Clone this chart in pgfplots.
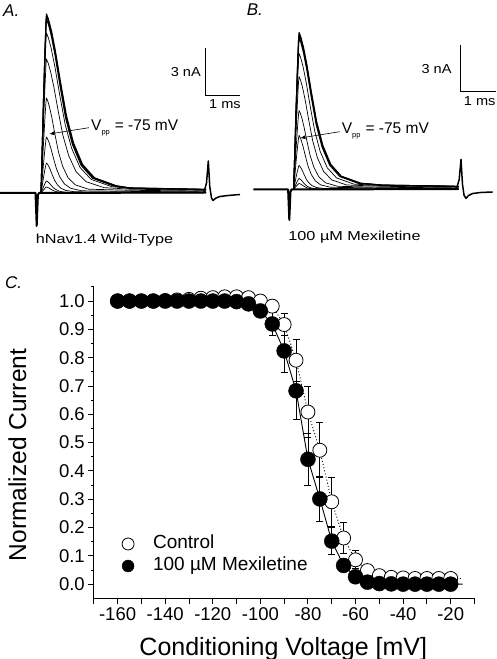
\documentclass[border=0pt]{standalone}
\usepackage{pgfplots}
\pgfplotsset{compat=1.18}
\usepackage{pgfplotstable}
\usepackage{fontspec}
\setmainfont{Liberation Sans}
\newfontfamily\widefont{Liberation Sans}[FakeStretch=1.25]
\newfontfamily\midfont{Liberation Sans}[FakeStretch=1.12]
\usetikzlibrary{arrows.meta}

\pgfplotstableread{
v c ce m me
-160 1.000 0.005 1.000 0.005
-155 1.000 0.005 1.000 0.005
-150 1.000 0.005 1.000 0.005
-145 1.000 0.005 1.000 0.005
-140 1.002 0.006 1.000 0.005
-135 1.004 0.006 1.000 0.005
-130 1.006 0.008 1.000 0.005
-125 1.010 0.010 1.000 0.006
-120 1.012 0.010 1.000 0.006
-115 1.015 0.011 1.000 0.006
-110 1.015 0.012 0.998 0.008
-105 1.012 0.012 0.990 0.010
-100 1.000 0.015 0.965 0.015
-95 0.982 0.020 0.919 0.040
-90 0.917 0.040 0.824 0.075
-85 0.791 0.075 0.683 0.100
-80 0.608 0.090 0.441 0.093
-75 0.473 0.097 0.301 0.080
-70 0.291 0.086 0.152 0.047
-65 0.163 0.056 0.066 0.020
-60 0.086 0.032 0.026 0.010
-55 0.048 0.015 0.007 0.006
-50 0.030 0.010 0.002 0.005
-45 0.024 0.008 0.001 0.005
-40 0.022 0.008 0.000 0.005
-35 0.020 0.008 0.000 0.005
-30 0.020 0.008 0.000 0.005
-25 0.020 0.008 0.000 0.005
-20 0.020 0.008 0.000 0.005
}\cdata

\pgfplotsset{
  tr/.style={black, line width=0.7pt, mark=none, line join=round},
  trb/.style={black, line width=1.1pt, mark=none, line join=round},
  base/.style={black, line width=2pt, mark=none, line join=round},
  panel/.style={scale only axis, width=243pt, height=225pt, xmin=0, xmax=243, ymin=-40, ymax=185, hide axis, clip=false, anchor=south west},
}

\begin{document}
\begin{tikzpicture}[x=1pt,y=1pt]
\useasboundingbox (0,0) rectangle (496,659);

% ---------------- Panel A ----------------
\begin{axis}[panel, at={(0pt,426pt)}]
\addplot[base] coordinates {(0,0)(35.5,0)(36.7,-33)(37.9,-2)(39,0)(206,0.5)};
\addplot[black, line width=1.5pt, line join=round] coordinates {(204,1)(206.5,10)(208.3,32)(209.8,6)(211.5,-5)(213,-7.5)(216,-5)(220,-3.5)(228,-2.5)(240,-1.5)};
\addplot[tr] coordinates {(41,0)(42,1.2)(43.5,3.1)(45,4.8)(46,5.8)(46.5,6)(47.14,5.8)(48.1,5.4)(49.38,4.7)(50.98,3.7)(52.9,2.6)(55.14,1.7)(58.02,1.0)(61.86,0.5)(68.9,0.2)(130,0.2)(160,0.2)(190,0.1)(206,0.1)};
\addplot[tr] coordinates {(41,0)(42,2.4)(43.5,6.2)(45,9.6)(46,11.5)(46.5,12)(47.2,11.6)(48.25,10.9)(49.65,9.5)(51.4,7.4)(53.5,5.2)(55.95,3.4)(59.1,1.9)(63.3,1.0)(71,0.5)(130,0.3)(160,0.3)(190,0.3)(206,0.2)};
\addplot[tr] coordinates {(41,0)(42,6)(43.5,15.6)(45,24)(46,28.8)(46.5,30)(47.3,29.1)(48.5,27.2)(50.1,23.7)(52.1,18.6)(54.5,12.9)(57.3,8.4)(60.9,4.8)(65.7,2.6)(74.5,1.2)(130,0.8)(160,0.8)(190,0.7)(206,0.6)};
\addplot[tr] coordinates {(41,0)(42,11.2)(43.5,29.1)(45,44.8)(46,53.8)(46.5,56)(47.5,54.3)(49,50.7)(51,44.2)(53.5,34.7)(56.5,24.1)(60,15.7)(64.5,9.0)(70.5,4.8)(81.5,2.2)(130,1.6)(160,1.4)(190,1.2)(206,1.1)};
\addplot[tr] coordinates {(41,0)(42,19)(43.5,49.4)(45,76)(46,91.2)(46.5,95)(47.7,92.2)(49.5,86.0)(51.9,75.1)(54.9,58.9)(58.5,40.9)(62.7,26.6)(68.1,15.2)(75.3,8.1)(88.5,3.8)(130,2.7)(160,2.4)(190,2.1)(206,1.9)};
\addplot[tr] coordinates {(41,0)(42,26.8)(43.5,69.7)(45,107.2)(46,128.6)(46.5,134)(48.14,130.0)(50.6,121.3)(53.88,105.9)(57.98,83.1)(62.9,57.6)(68.64,37.5)(76.02,21.4)(85.86,11.4)(103.9,5.4)(130,3.8)(160,3.4)(190,2.9)(206,2.7)};
\addplot[tr] coordinates {(41,0)(42,32)(43.5,83.2)(45,128)(46,153.6)(46.5,160)(48.36,155.2)(51.15,144.8)(54.87,126.4)(59.52,99.2)(65.1,68.8)(71.61,44.8)(79.98,25.6)(91.14,13.6)(111.6,6.4)(130,4.5)(160,4.0)(190,3.5)(206,3.2)};
\addplot[trb] coordinates {(41,0)(42,34.8)(43.5,90.5)(45,139.2)(46,167.0)(46.5,174)(48.42,168.8)(51.3,157.5)(55.14,137.5)(59.94,107.9)(65.7,74.8)(72.42,48.7)(81.06,27.8)(92.58,14.8)(113.7,7.0)(130,4.9)(160,4.4)(190,3.8)(206,3.5)};
\addplot[trb] coordinates {(41,0)(42,35.4)(43.5,92.0)(45,141.6)(46,169.9)(46.5,177)(48.46,171.7)(51.4,160.2)(55.32,139.8)(60.22,109.7)(66.1,76.1)(72.96,49.6)(81.78,28.3)(93.54,15.0)(115.1,7.1)(130,5.0)(160,4.4)(190,3.9)(206,3.5)};
\addplot[trb] coordinates {(41,0)(42,35.8)(43.5,93.1)(45,143.2)(46,171.8)(46.5,179)(48.5,173.6)(51.5,162.0)(55.5,141.4)(60.5,111.0)(66.5,77.0)(73.5,50.1)(82.5,28.6)(94.5,15.2)(116.5,7.2)(130,5.0)(160,4.5)(190,3.9)(206,3.6)};
% scale bar
\addplot[black, line width=0.8pt] coordinates {(205.7,145.3)(205.7,98)(240,98)};
\end{axis}

% ---------------- Panel B ----------------
\begin{axis}[panel, at={(252.6pt,429.5pt)}]
\addplot[base] coordinates {(0.7,0)(35.5,0)(36.7,-30.5)(37.9,-2)(39,0)(206,0.5)};
\addplot[black, line width=1.5pt, line join=round] coordinates {(204,1)(206.6,10)(208.4,30)(209.9,5)(211.5,-6)(213.4,-8.8)(216,-6)(220,-4)(228,-3)(240,-2.5)};
\addplot[tr] coordinates {(41,0)(42,1.2)(43.5,3.1)(45,4.8)(46,5.8)(46.5,6)(47.1,5.8)(48,5.4)(49.2,4.7)(50.7,3.7)(52.5,2.6)(54.6,1.7)(57.3,1.0)(60.9,0.5)(67.5,0.2)(130,0.2)(160,0.2)(190,0.1)(206,0.1)};
\addplot[tr] coordinates {(41,0)(42,2.2)(43.5,5.7)(45,8.8)(46,10.6)(46.5,11)(47.12,10.7)(48.05,10.0)(49.29,8.7)(50.84,6.8)(52.7,4.7)(54.87,3.1)(57.66,1.8)(61.38,0.9)(68.2,0.4)(130,0.3)(160,0.3)(190,0.2)(206,0.2)};
\addplot[tr] coordinates {(41,0)(42,4.8)(43.5,12.5)(45,19.2)(46,23)(46.5,24)(47.22,23.3)(48.3,21.7)(49.74,19.0)(51.54,14.9)(53.7,10.3)(56.22,6.7)(59.46,3.8)(63.78,2.0)(71.7,1.0)(130,0.7)(160,0.6)(190,0.5)(206,0.5)};
\addplot[tr] coordinates {(41,0)(42,10.8)(43.5,28.1)(45,43.2)(46,51.8)(46.5,54)(47.4,52.4)(48.75,48.9)(50.55,42.7)(52.8,33.5)(55.5,23.2)(58.65,15.1)(62.7,8.6)(68.1,4.6)(78,2.2)(130,1.5)(160,1.4)(190,1.2)(206,1.1)};
\addplot[tr] coordinates {(41,0)(42,15.8)(43.5,41.1)(45,63.2)(46,75.8)(46.5,79)(47.6,76.6)(49.25,71.5)(51.45,62.4)(54.2,49.0)(57.5,34.0)(61.35,22.1)(66.3,12.6)(72.9,6.7)(85,3.2)(130,2.2)(160,2.0)(190,1.7)(206,1.6)};
\addplot[tr] coordinates {(41,0)(42,22.6)(43.5,58.8)(45,90.4)(46,108.5)(46.5,113)(47.86,109.6)(49.9,102.3)(52.62,89.3)(56.02,70.1)(60.1,48.6)(64.86,31.6)(70.98,18.1)(79.14,9.6)(94.1,4.5)(130,3.2)(160,2.8)(190,2.5)(206,2.3)};
\addplot[tr] coordinates {(41,0)(42,27.2)(43.5,70.7)(45,108.8)(46,130.6)(46.5,136)(48.06,131.9)(50.4,123.1)(53.52,107.4)(57.42,84.3)(62.1,58.5)(67.56,38.1)(74.58,21.8)(83.94,11.6)(101.1,5.4)(130,3.8)(160,3.4)(190,3.0)(206,2.7)};
\addplot[trb] coordinates {(41,0)(42,30.4)(43.5,79)(45,121.6)(46,145.9)(46.5,152)(48.2,147.4)(50.75,137.6)(54.15,120.1)(58.4,94.2)(63.5,65.4)(69.45,42.6)(77.1,24.3)(87.3,12.9)(106,6.1)(130,4.3)(160,3.8)(190,3.3)(206,3.0)};
\addplot[trb] coordinates {(41,0)(42,31)(43.5,80.6)(45,124)(46,148.8)(46.5,155)(48.24,150.4)(50.85,140.3)(54.33,122.5)(58.68,96.1)(63.9,66.7)(69.99,43.4)(77.82,24.8)(88.26,13.2)(107.4,6.2)(130,4.3)(160,3.9)(190,3.4)(206,3.1)};
\addplot[trb] coordinates {(41,0)(42,31.4)(43.5,81.6)(45,125.6)(46,150.7)(46.5,157)(48.26,152.3)(50.9,142.1)(54.42,124.0)(58.82,97.3)(64.1,67.5)(70.26,44.0)(78.18,25.1)(88.74,13.3)(108.1,6.3)(130,4.4)(160,3.9)(190,3.5)(206,3.1)};
% scale bar
\addplot[black, line width=0.8pt] coordinates {(208.1,144.5)(208.1,98.5)(243.4,98.5)};
\end{axis}

% ---------------- Panel C ----------------
\begin{axis}[
  at={(93.8pt,60.7pt)}, anchor=south west, scale only axis,
  width=380.7pt, height=311.4pt,
  xmin=-170, xmax=-10, ymin=-0.05, ymax=1.05,
  axis x line*=bottom, axis y line*=left,
  axis line style={line width=1.1pt, -},
  xtick={-170,-160,-150,-140,-130,-120,-110,-100,-90,-80,-70,-60,-50,-40,-30,-20,-10},
  xticklabels={,-160,,-140,,-120,,-100,,-80,,-60,,-40,,-20,},
  ytick={0,0.1,0.2,0.3,0.4,0.5,0.6,0.7,0.8,0.9,1.0},
  yticklabels={0.0,0.1,0.2,0.3,0.4,0.5,0.6,0.7,0.8,0.9,1.0},
  minor ytick={0.05,0.15,0.25,0.35,0.45,0.55,0.65,0.75,0.85,0.95,1.05},
  tick align=outside, major tick length=5.5pt, minor tick length=3pt,
  tick style={black, line width=0.9pt},
  tick label style={font=\fontsize{18.5}{20}\selectfont},
  legend style={at={(axis cs:-158.2,0.103)}, anchor=west, draw=none, fill=none,
    inner sep=0pt, column sep=19pt, row sep=4pt,
    font=\fontsize{19}{19}\selectfont,
    nodes={inner sep=0pt, text height=14pt, text depth=4pt}},
  legend cell align=left,
  clip=false,
]
\addlegendimage{only marks, mark=*, mark size=6pt, mark options={fill=white, draw=black, line width=0.8pt}}
\addlegendentry{Control}
\addlegendimage{only marks, mark=*, mark size=6pt, mark options={fill=black, draw=black}}
\addlegendentry{100 µM Mexiletine}

% control fit (dotted)
\addplot[forget plot, black, line width=0.9pt, dash pattern=on 1pt off 2.2pt] coordinates {(-160,1.0)(-140,1.002)(-125,1.01)(-115,1.015)(-105,1.012)(-100,1.0)(-95,0.982)(-90,0.917)(-85,0.791)(-80,0.608)(-75,0.473)(-70,0.291)(-65,0.163)(-60,0.086)(-55,0.048)(-50,0.030)(-45,0.024)(-40,0.022)(-15,0.02)};
% control markers
\addplot[forget plot, only marks, mark=*, mark size=7pt, mark options={fill=white, draw=black, line width=0.8pt}] table[x=v, y=c] {\cdata};
\addplot[forget plot, draw=none, mark=none, error bars/.cd, y dir=both, y explicit,
  error bar style={draw=black, line width=0.8pt, solid},
  error mark options={rotate=90, mark size=3.5pt, draw=black, line width=0.8pt}] table[x=v, y=c, y error=ce] {\cdata};
% mexiletine fit (solid)
\addplot[forget plot, black, line width=0.9pt] coordinates {(-160,1.0)(-110,0.998)(-105,0.99)(-100,0.965)(-95,0.919)(-90,0.824)(-85,0.683)(-80,0.441)(-75,0.301)(-70,0.152)(-65,0.066)(-60,0.026)(-55,0.007)(-50,0.002)(-45,0.0)(-15,0.0)};
% mexiletine markers
\addplot[forget plot, only marks, mark=*, mark size=7.5pt, mark options={fill=black, draw=black}] table[x=v, y=m] {\cdata};
\addplot[forget plot, draw=none, mark=none, error bars/.cd, y dir=both, y explicit,
  error bar style={draw=black, line width=0.8pt, solid},
  error mark options={rotate=90, mark size=3.5pt, draw=black, line width=0.8pt}] table[x=v, y=m, y error=me] {\cdata};
\end{axis}

% ---------------- Text ----------------
\node[anchor=north west, inner sep=0pt] at (3,654) {\fontsize{17}{17}\selectfont\itshape A.};
\node[anchor=north west, inner sep=0pt] at (246.7,655.7) {\fontsize{17}{17}\selectfont\itshape B.};
\node[anchor=north west, inner sep=0pt] at (5,382.3) {\fontsize{17}{17}\selectfont\itshape C.};

\node[anchor=east, inner sep=0pt] at (201,586.5) {\midfont\fontsize{13}{13}\selectfont 3 nA};
\node[inner sep=0pt] at (225,555.2) {\midfont\fontsize{13}{13}\selectfont 1 ms};
\node[anchor=east, inner sep=0pt] at (451.7,590) {\midfont\fontsize{13}{13}\selectfont 3 nA};
\node[inner sep=0pt] at (479.7,557.7) {\midfont\fontsize{13}{13}\selectfont 1 ms};

\node[anchor=base, inner sep=0pt] at (104.5,415.5) {\widefont\fontsize{13}{13}\selectfont hNav1.4 Wild-Type};
\node[anchor=base, inner sep=0pt] at (354.5,418) {\widefont\fontsize{13}{13}\selectfont 100 µM Mexiletine};

\node[anchor=base west, inner sep=0pt] at (91,528) {\fontsize{15.5}{15.5}\selectfont V\raisebox{-3.9pt}{\fontsize{7.5}{7.5}\selectfont pp}\hspace{5pt}= -75 mV};
\node[anchor=base west, inner sep=0pt] at (341.7,525.7) {\fontsize{15.5}{15.5}\selectfont V\raisebox{-3.9pt}{\fontsize{7.5}{7.5}\selectfont pp}\hspace{5pt}= -75 mV};
\draw[-{Latex[length=5pt,width=4pt]}, line width=0.6pt] (89,531.3) -- (49.3,525);
\draw[-{Latex[length=5pt,width=4pt]}, line width=0.6pt] (339.7,527.3) -- (300.3,521);

\node[anchor=base, inner sep=0pt] at (283.3,4) {\fontsize{25}{25}\selectfont Conditioning Voltage [mV]};
\node[anchor=base, rotate=90, inner sep=0pt] at (26,204) {\fontsize{24.5}{24.5}\selectfont Normalized Current};
\end{tikzpicture}
\end{document}
